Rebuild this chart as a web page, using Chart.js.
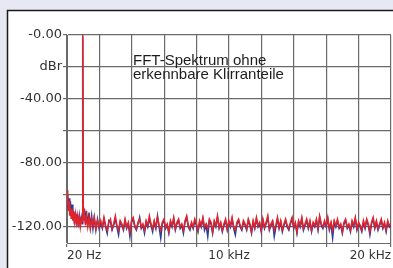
<!DOCTYPE html>
<html>
<head>
<meta charset="utf-8">
<script src="https://cdn.jsdelivr.net/npm/chart.js@4/dist/chart.umd.min.js"></script>
<style>
  html, body { margin: 0; padding: 0; background: #e8e8f4; }
  canvas { display: block; }
</style>
</head>
<body>
<canvas id="fft" width="393" height="268"></canvas>
<script>
// frequency points (Hz)
const freqHz = [
  20, 50, 80, 110, 150, 190, 230, 280, 330, 380, 430, 480, 540, 600, 660, 720, 780, 840,
  900, 950, 980, 1000, 1020, 1050, 1100, 1160, 1220, 1300, 1380, 1460, 1540, 1620, 1700, 1800, 1900, 2000,
  2100, 2200, 2300, 2400, 2500, 2600, 2700, 2800, 2900, 3000,
  3100, 3200, 3300, 3400, 3500, 3600, 3700, 3800, 3900, 4000,
  4100, 4200, 4300, 4400, 4500, 4600, 4700, 4800, 4900, 5000,
  5100, 5200, 5300, 5400, 5500, 5600, 5700, 5800, 5900, 6000,
  6100, 6200, 6300, 6400, 6500, 6600, 6700, 6800, 6900, 7000,
  7100, 7200, 7300, 7400, 7500, 7600, 7700, 7800, 7900, 8000,
  8100, 8200, 8300, 8400, 8500, 8600, 8700, 8800, 8900, 9000,
  9100, 9200, 9300, 9400, 9500, 9600, 9700, 9800, 9900, 10000,
  10100, 10200, 10300, 10400, 10500, 10600, 10700, 10800, 10900, 11000,
  11100, 11200, 11300, 11400, 11500, 11600, 11700, 11800, 11900, 12000,
  12100, 12200, 12300, 12400, 12500, 12600, 12700, 12800, 12900, 13000,
  13100, 13200, 13300, 13400, 13500, 13600, 13700, 13800, 13900, 14000,
  14100, 14200, 14300, 14400, 14500, 14600, 14700, 14800, 14900, 15000,
  15100, 15200, 15300, 15400, 15500, 15600, 15700, 15800, 15900, 16000,
  16100, 16200, 16300, 16400, 16500, 16600, 16700, 16800, 16900, 17000,
  17100, 17200, 17300, 17400, 17500, 17600, 17700, 17800, 17900, 18000,
  18100, 18200, 18300, 18400, 18500, 18600, 18700, 18800, 18900, 19000,
  19100, 19200, 19300, 19400, 19500, 19600, 19700, 19800, 19900, 20000
];

// red channel (dBr)
const redLevels = [
  -97, -106, -101, -110, -104, -113, -108, -115, -109, -116, -111, -117, -112, -119, -113, -118, -114, -120,
  -115, -117, -110, 0, -108, -116, -112, -119, -113, -120, -114, -121, -115, -119, -114, -121, -116, -120,
  -116, -120, -114, -119, -122, -117, -115, -121, -118, -113,
  -119, -122, -116, -118, -121, -115, -120, -117, -123, -116,
  -114, -119, -121, -117, -115, -120, -118, -122, -116, -119,
  -113, -118, -121, -116, -120, -114, -119, -122, -117, -115,
  -120, -118, -123, -116, -119, -114, -121, -117, -115, -120,
  -118, -122, -116, -113, -119, -121, -117, -120, -115, -118,
  -122, -116, -119, -114, -120, -118, -121, -115, -117, -123,
  -116, -119, -113, -120, -117, -122, -118, -115, -121, -116,
  -119, -114, -120, -122, -117, -115, -119, -121, -116, -118,
  -121, -115, -118, -123, -116, -120, -114, -119, -117, -122,
  -115, -120, -117, -113, -121, -118, -116, -122, -119, -114,
  -120, -116, -122, -118, -115, -119, -121, -117, -114, -120,
  -117, -123, -116, -119, -114, -121, -118, -115, -120, -116,
  -122, -117, -119, -115, -121, -113, -118, -120, -116, -119,
  -114, -121, -117, -122, -116, -119, -115, -120, -118, -123,
  -117, -115, -120, -118, -122, -116, -119, -114, -121, -117,
  -119, -122, -116, -120, -115, -118, -123, -117, -114, -120,
  -116, -121, -118, -115, -120, -117, -122, -116, -119, -118
];

// blue channel (dBr)
const blueLevels = [
  -100, -108, -103, -109, -102, -111, -104, -113, -106, -114, -110, -118, -111, -117, -112, -120, -113, -118,
  -114, -118, -111, -1, -109, -115, -109, -118, -110, -119, -111, -120, -113, -121, -114, -122, -115, -121,
  -118, -121, -115, -120, -124, -116, -117, -122, -119, -115,
  -120, -125, -117, -119, -122, -116, -121, -118, -126, -117,
  -115, -120, -122, -118, -114, -121, -119, -124, -117, -120,
  -115, -119, -123, -117, -121, -113, -120, -127, -118, -116,
  -121, -119, -124, -117, -120, -115, -122, -118, -116, -121,
  -119, -124, -117, -114, -120, -122, -118, -121, -116, -119,
  -123, -117, -120, -115, -122, -119, -126, -116, -118, -124,
  -117, -120, -114, -121, -118, -123, -119, -116, -122, -117,
  -120, -115, -121, -125, -118, -116, -120, -122, -117, -119,
  -122, -116, -119, -124, -117, -121, -115, -120, -118, -123,
  -116, -121, -118, -114, -122, -119, -117, -126, -120, -115,
  -121, -117, -123, -119, -116, -120, -122, -118, -115, -121,
  -118, -124, -117, -120, -115, -122, -119, -116, -121, -117,
  -123, -118, -120, -116, -122, -114, -119, -121, -117, -120,
  -115, -122, -118, -127, -117, -120, -116, -121, -119, -124,
  -118, -116, -121, -119, -123, -117, -120, -115, -122, -118,
  -120, -123, -117, -121, -116, -119, -125, -118, -115, -121,
  -117, -122, -119, -116, -121, -118, -123, -117, -120, -119
];

// axis ticks
const xTickValues = [20, 2018, 4016, 6014, 8012, 10010, 12008, 14006, 16004, 18002, 20000];
const xTickLabels = ['20 Hz', '', '', '', '', '10 kHz', '', '', '', '', '20 kHz'];
const yTickValues = [0, -20, -40, -60, -80, -100, -120];
const yTickLabels = ['-0.00', 'dBr', '-40.00', '', '-80.00', '', '-120.00'];

const noteLines = ['FFT-Spektrum ohne', 'erkennbare Klirranteile'];

const toPoints = (levels) => freqHz.map((f, i) => ({ x: f, y: levels[i] }));

// panel behind the chart + the note text
const panelPlugin = {
  id: 'panel',
  beforeDraw(chart) {
    const ctx = chart.ctx;
    ctx.save();
    ctx.fillStyle = '#e8e8f4';
    ctx.fillRect(0, 0, chart.width, chart.height);
    ctx.fillStyle = '#ffffff';
    ctx.fillRect(7, 10, chart.width - 7, chart.height - 10);
    ctx.strokeStyle = '#1a1a1a';
    ctx.lineWidth = 1.5;
    ctx.beginPath();
    ctx.moveTo(7.5, chart.height);
    ctx.lineTo(7.5, 10.5);
    ctx.lineTo(chart.width, 10.5);
    ctx.stroke();
    ctx.restore();
  },
  afterDatasetsDraw(chart) {
    const ctx = chart.ctx;
    ctx.save();
    ctx.fillStyle = '#1e1e1e';
    ctx.font = '15px "Liberation Sans", Arial, sans-serif';
    ctx.textBaseline = 'alphabetic';
    ctx.textAlign = 'left';
    ctx.fillText(noteLines[0], 133, 65);
    ctx.fillText(noteLines[1], 133, 79);
    ctx.restore();
  }
};

const gridStyle = { color: '#6a6a6a', lineWidth: 1.2, drawTicks: true, tickLength: 4, tickColor: '#6a6a6a' };

new Chart(document.getElementById('fft'), {
  type: 'line',
  data: {
    datasets: [
      {
        label: 'rechts',
        data: toPoints(redLevels),
        borderColor: '#e3232b',
        borderWidth: 1.5,
        pointRadius: 0,
        tension: 0
      },
      {
        label: 'links',
        data: toPoints(blueLevels),
        borderColor: '#2b3c9c',
        borderWidth: 1.5,
        pointRadius: 0,
        tension: 0
      }
    ]
  },
  options: {
    responsive: false,
    animation: false,
    devicePixelRatio: 1,
    layout: { padding: { left: 0, top: 35, right: 2, bottom: 0 } },
    plugins: {
      legend: { display: false },
      tooltip: { enabled: false },
      title: { display: false }
    },
    scales: {
      x: {
        type: 'linear',
        min: 20,
        max: 20000,
        afterBuildTicks: (scale) => { scale.ticks = xTickValues.map(v => ({ value: v })); },
        afterFit: (scale) => { scale.height = 25; },
        grid: gridStyle,
        border: { display: true, color: '#6a6a6a' },
        ticks: {
          autoSkip: false,
          maxRotation: 0,
          align: 'inner',
          padding: 2,
          color: '#333',
          font: { family: '"DejaVu Sans", sans-serif', size: 12 },
          callback: (value, index) => xTickLabels[index]
        }
      },
      y: {
        type: 'linear',
        min: -130,
        max: 0,
        afterBuildTicks: (scale) => { scale.ticks = yTickValues.map(v => ({ value: v })); },
        afterFit: (scale) => { scale.width = 67; },
        grid: gridStyle,
        border: { display: true, color: '#6a6a6a' },
        ticks: {
          padding: 1,
          color: '#333',
          font: { family: '"DejaVu Sans", sans-serif', size: 13 },
          callback: (value) => {
            const i = yTickValues.indexOf(value);
            return i >= 0 ? yTickLabels[i] : '';
          }
        }
      }
    }
  },
  plugins: [panelPlugin]
});
</script>
</body>
</html>
